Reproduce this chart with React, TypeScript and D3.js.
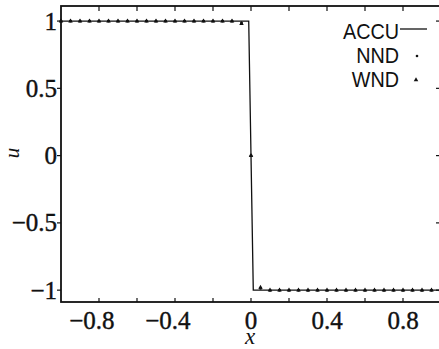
import React from "react";
import * as d3 from "d3";

// sample points of the numerical schemes
const gridX = [
  -1, -0.95, -0.9, -0.85, -0.8, -0.75, -0.7, -0.65, -0.6, -0.55, -0.5, -0.45,
  -0.4, -0.35, -0.3, -0.25, -0.2, -0.15, -0.1, -0.05, 0, 0.05, 0.1, 0.15, 0.2,
  0.25, 0.3, 0.35, 0.4, 0.45, 0.5, 0.55, 0.6, 0.65, 0.7, 0.75, 0.8, 0.85, 0.9,
  0.95, 1,
];
const nndU = [
  1, 1, 1, 1, 1, 1, 1, 1, 1, 1, 1, 1, 1, 1, 1, 1, 1, 1, 1, 0.985, 0, -0.985, -1,
  -1, -1, -1, -1, -1, -1, -1, -1, -1, -1, -1, -1, -1, -1, -1, -1, -1, -1,
];
const wndU = [
  1, 1, 1, 1, 1, 1, 1, 1, 1, 1, 1, 1, 1, 1, 1, 1, 1, 1, 1, 0.98, 0, -0.98, -1,
  -1, -1, -1, -1, -1, -1, -1, -1, -1, -1, -1, -1, -1, -1, -1, -1, -1, -1,
];
// accurate (reference) solution
const accuX = [-1, -0.012, 0, 0.012, 1];
const accuU = [1, 1, 0, -1, -1];

const xTicks = [-0.8, -0.6, -0.4, -0.2, 0, 0.2, 0.4, 0.6, 0.8];
const xLabels = [-0.8, -0.4, 0, 0.4, 0.8];
const yTicks = [-1, -0.5, 0, 0.5, 1];
const legendNames = ["ACCU", "NND", "WND"];

const W = 439;
const H = 349;
const LEFT = 61;
const RIGHT = 441;
const TOP = 6;
const BOTTOM = 302;
const FS = 25;
const SERIF = "'Liberation Serif', 'Times New Roman', serif";
const SANS = "'Liberation Sans', Arial, sans-serif";

const x = d3.scaleLinear().domain([-1, 1]).range([LEFT, RIGHT]);
const y = d3.scaleLinear().domain([-1.088, 1.112]).range([BOTTOM, TOP]);

const fmt = (v: number) => String(Math.abs(v));
const label = (v: number) => (v < 0 ? "\u2212" : "") + fmt(v);
// width of the unsigned number in Times-like metrics
const numWidth = (s: string) =>
  s.split("").reduce((w, c) => w + (c === "." ? 0.25 : 0.5), 0) * FS;

const triangle = d3.symbol().type(d3.symbolTriangle).size(9);

export default function App() {
  const accuLine = d3
    .line<number>()
    .x((d) => x(d))
    .y((_, i) => y(accuU[i]));

  return (
    <svg
      width={W}
      height={H}
      style={{ position: "fixed", left: 0, top: 0, background: "#fff" }}
    >
      {/* frame */}
      <rect
        x={LEFT}
        y={TOP}
        width={RIGHT - LEFT}
        height={BOTTOM - TOP}
        fill="none"
        stroke="#111"
        strokeWidth={1.8}
      />
      {/* x ticks, top and bottom, pointing in */}
      {xTicks.map((t) => (
        <g key={`xt${t}`} stroke="#111" strokeWidth={1.2}>
          <line x1={x(t)} x2={x(t)} y1={TOP} y2={TOP + 5} />
          <line x1={x(t)} x2={x(t)} y1={BOTTOM} y2={BOTTOM - 4} />
        </g>
      ))}
      {yTicks.map((t) => (
        <g key={`yt${t}`} stroke="#111" strokeWidth={1.2}>
          <line x1={LEFT} x2={LEFT - 4} y1={y(t)} y2={y(t)} />
          <line x1={RIGHT} x2={RIGHT - 5} y1={y(t)} y2={y(t)} />
        </g>
      ))}
      {/* tick labels */}
      <g
        fontFamily={SERIF}
        fontSize={FS}
        fill="#111"
        stroke="#111"
        strokeWidth={0.4}
      >
        {xLabels.map((t) => (
          <text
            key={`xl${t}`}
            x={x(t) + numWidth(fmt(t)) / 2}
            y={329}
            textAnchor="end"
          >
            {label(t)}
          </text>
        ))}
        {yTicks.map((t) => (
          <text key={`yl${t}`} x={57} y={y(t)} dy="0.34em" textAnchor="end">
            {label(t)}
          </text>
        ))}
      </g>
      {/* axis titles */}
      <text
        x={250}
        y={344}
        textAnchor="middle"
        fontFamily={SERIF}
        fontStyle="italic"
        fontSize={23}
        fill="#111"
      >
        x
      </text>
      <text
        transform="translate(19,153) rotate(-90)"
        textAnchor="middle"
        fontFamily={SERIF}
        fontStyle="italic"
        fontSize={21}
        fill="#111"
      >
        u
      </text>
      {/* accurate solution */}
      <path
        d={accuLine(accuX) || ""}
        fill="none"
        stroke="#111"
        strokeWidth={1.3}
      />
      {/* WND triangles */}
      {gridX.map((d, i) => (
        <path
          key={`w${i}`}
          d={triangle() || ""}
          transform={`translate(${x(d)},${y(wndU[i])})`}
          fill="#111"
        />
      ))}
      {/* NND dots */}
      {gridX.map((d, i) => (
        <circle key={`n${i}`} cx={x(d)} cy={y(nndU[i])} r={1.5} fill="#111" />
      ))}
      {/* legend */}
      <g fontFamily={SANS} fontSize={22} fill="#111">
        {legendNames.map((name, i) => (
          <text
            key={name}
            transform={`translate(399,${39 + i * 24}) scale(0.9,1)`}
            textAnchor="end"
          >
            {name}
          </text>
        ))}
      </g>
      <line x1={400} x2={427} y1={29} y2={29} stroke="#111" strokeWidth={1.3} />
      <circle cx={417} cy={56} r={1.3} fill="#111" />
      <path d={triangle() || ""} transform="translate(416,80)" fill="#111" />
    </svg>
  );
}
